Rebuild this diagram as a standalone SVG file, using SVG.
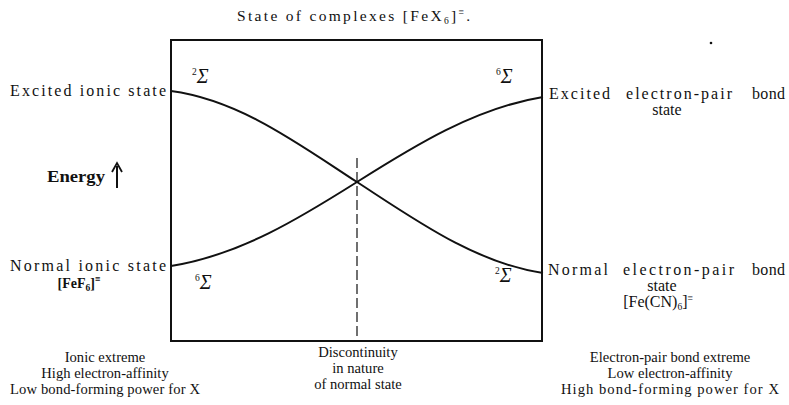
<svg xmlns="http://www.w3.org/2000/svg" width="789" height="405" viewBox="0 0 789 405">
<style>
text{font-family:"Liberation Serif","DejaVu Serif",serif;fill:#111;font-size:15.5px}
.c{text-anchor:middle}
.bt{font-size:14.6px}
.lbl{font-size:16px}
.sig{font-size:20px;font-style:italic}
.sup{font-size:9.5px}
.sub{font-size:9.5px}
.bold{font-weight:bold}
.curve{fill:none;stroke:#111;stroke-width:2}
.frame{fill:none;stroke:#111;stroke-width:2}
.dash{fill:none;stroke:#111;stroke-width:1.2;stroke-dasharray:10 4}
</style>
<rect width="789" height="405" fill="#fff"/>
<g id="title">
<text x="237" y="21" textLength="233" lengthAdjust="spacing" style="font-size:15.5px">State of complexes [FeX<tspan class="sub" dy="3">6</tspan><tspan dy="-3">]</tspan><tspan class="sup" dy="-6">≡</tspan><tspan dy="6">.</tspan></text>
</g>
<circle cx="711" cy="43" r="1.3" fill="#111"/>
<g id="frame">
<rect class="frame" x="171" y="40" width="371" height="301"/>
</g>
<g id="connectors">
<path class="curve" d="M171,91 C240,100 300,145 357,182 C414,219 475,263 543,273"/>
<path class="curve" d="M171,266 C240,255 300,218 357,182 C414,146 475,108 543,97"/>
<line class="dash" x1="357" y1="158" x2="357" y2="340"/>
</g>
<g id="excited-ionic">
<text class="lbl" x="10" y="96" textLength="156" lengthAdjust="spacing">Excited ionic state</text>
<text x="192" y="83"><tspan class="sup" dy="-8">2</tspan><tspan class="sig" dy="8">Σ</tspan></text>
</g>
<g id="excited-ep">
<text class="lbl" x="549" y="99" textLength="61" lengthAdjust="spacing">Excited</text>
<text class="lbl" x="626" y="99" textLength="106" lengthAdjust="spacing">electron-pair</text>
<text class="lbl" x="752" y="99" textLength="33" lengthAdjust="spacing">bond</text>
<text class="c lbl" x="667" y="115">state</text>
<text x="496" y="83"><tspan class="sup" dy="-8">6</tspan><tspan class="sig" dy="8">Σ</tspan></text>
</g>
<g id="energy">
<text class="bold" x="47" y="182" textLength="58" lengthAdjust="spacingAndGlyphs" style="font-size:16px">Energy</text>
<line x1="117" y1="166" x2="117" y2="188" stroke="#111" stroke-width="2"/>
<path d="M112,172 L117,163 L122,172" fill="none" stroke="#111" stroke-width="1.8"/>
</g>
<g id="normal-ionic">
<text class="lbl" x="10" y="271" textLength="156" lengthAdjust="spacing">Normal ionic state</text>
<text class="c bold" x="79" y="288" style="font-size:14px">[FeF<tspan class="sub" dy="3">6</tspan><tspan dy="-3">]</tspan><tspan class="sup" dy="-6">≡</tspan></text>
<text x="195" y="289"><tspan class="sup" dy="-8">6</tspan><tspan class="sig" dy="8">Σ</tspan></text>
</g>
<g id="normal-ep">
<text class="lbl" x="548" y="275" textLength="60" lengthAdjust="spacing">Normal</text>
<text class="lbl" x="623" y="275" textLength="111" lengthAdjust="spacing">electron-pair</text>
<text class="lbl" x="752" y="275" textLength="33" lengthAdjust="spacing">bond</text>
<text class="c lbl" x="662" y="291">state</text>
<text class="c lbl" x="658" y="307">[Fe(CN)<tspan class="sub" dy="3">6</tspan><tspan dy="-3">]</tspan><tspan class="sup" dy="-6">≡</tspan></text>
<text x="495" y="282"><tspan class="sup" dy="-8">2</tspan><tspan class="sig" dy="8">Σ</tspan></text>
</g>
<g id="ionic-extreme">
<text class="c bt" x="105" y="362">Ionic extreme</text>
<text class="c bt" x="105" y="378">High electron-affinity</text>
<text class="c bt" x="105" y="394" textLength="190" lengthAdjust="spacing">Low bond-forming power for X</text>
</g>
<g id="discontinuity">
<text class="c bt" x="358" y="357">Discontinuity</text>
<text class="c bt" x="358" y="373">in nature</text>
<text class="c bt" x="358" y="389">of normal state</text>
</g>
<g id="ep-extreme">
<text class="c bt" x="670" y="362">Electron-pair bond extreme</text>
<text class="c bt" x="670" y="378">Low electron-affinity</text>
<text class="c bt" x="670" y="394" textLength="218" lengthAdjust="spacing">High bond-forming power for X</text>
</g>
</svg>
